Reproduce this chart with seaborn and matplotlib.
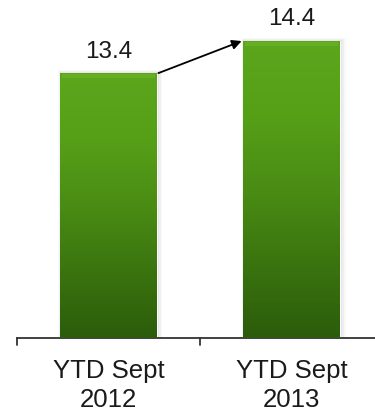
import matplotlib
matplotlib.use("Agg")
import matplotlib.pyplot as plt
import seaborn as sns
import numpy as np
import pandas as pd
from matplotlib.colors import LinearSegmentedColormap

categories = ["YTD Sept\n2012", "YTD Sept\n2013"]
values = [13.4, 14.4]
value_labels = ["13.4", "14.4"]

sns.set_style("white")
plt.rcParams['font.family'] = ['Liberation Sans', 'DejaVu Sans']

df = pd.DataFrame({"period": categories, "value": values})

fig = plt.figure(figsize=(3.75, 4.15), dpi=100)
ax = fig.add_axes([17/375, 77/415, 1 - 17/375, 338/415])

bar_w = 0.525
sns.barplot(data=df, x="period", y="value", color="#4a8a14", width=bar_w,
            ax=ax, saturation=1)

ax.set_ylim(5.14, 15.68)
ax.set_xlim(-0.5, 1.456)

cmap = LinearSegmentedColormap.from_list(
    "g", ["#2c5c0b", "#3a740f", "#4a8c14", "#56a018", "#5ba61b"])
grad = np.linspace(0, 1, 256).reshape(-1, 1)
ylo = 5.14
for p in list(ax.patches):
    x0, y0 = p.get_x(), p.get_y()
    w, h = p.get_width(), p.get_height()
    # soft shadow
    for k, a in enumerate([0.06, 0.04, 0.025]):
        d = 0.012 * (k + 1)
        ax.add_patch(plt.Rectangle((x0 - d * 0.3, ylo), w + d * 1.2, h - ylo + d * 3,
                                   color="black", alpha=a, lw=0, zorder=1))
    im = ax.imshow(grad, extent=[x0, x0 + w, ylo, y0 + h], origin="lower",
                   cmap=cmap, aspect="auto", zorder=3,
                   vmin=0, vmax=1)
    im.set_clip_path(p)
    p.set_zorder(2)
    # subtle top bevel
    ax.add_patch(plt.Rectangle((x0 + 0.01, y0 + h - 0.14), w - 0.02, 0.1,
                               color="#78b93a", alpha=0.45, lw=0, zorder=4))
ax.set_xlim(-0.5, 1.456)
ax.set_ylim(5.14, 15.68)

for i, (v, t) in enumerate(zip(values, value_labels)):
    ax.text(i, v + 0.33, t, ha="center", va="bottom", fontsize=17.5,
            color="#1a1a1a")

ax.annotate("", xy=(1 - bar_w / 2 - 0.01, values[1]),
            xytext=(0 + bar_w / 2 + 0.01, values[0]),
            arrowprops=dict(arrowstyle="-|>", color="black", lw=1.3,
                            mutation_scale=14, shrinkA=0, shrinkB=0),
            zorder=5)

for s in ["top", "right", "left"]:
    ax.spines[s].set_visible(False)
ax.spines["bottom"].set_color("#333333")
ax.spines["bottom"].set_linewidth(1.3)
ax.set_yticks([])
ax.set_xlabel("")
ax.set_ylabel("")
ax.set_xticks([0, 1])
ax.set_xticklabels(categories, fontsize=18.5, color="#1a1a1a", linespacing=1.28)
ax.tick_params(axis="x", length=0, pad=15)
# category boundary ticks
for xb in [-0.5, 0.5]:
    ax.plot([xb, xb], [0, -0.022], transform=ax.get_xaxis_transform(),
            color="#333333", lw=1.3, clip_on=False)

fig.savefig("out.png", dpi=100)
